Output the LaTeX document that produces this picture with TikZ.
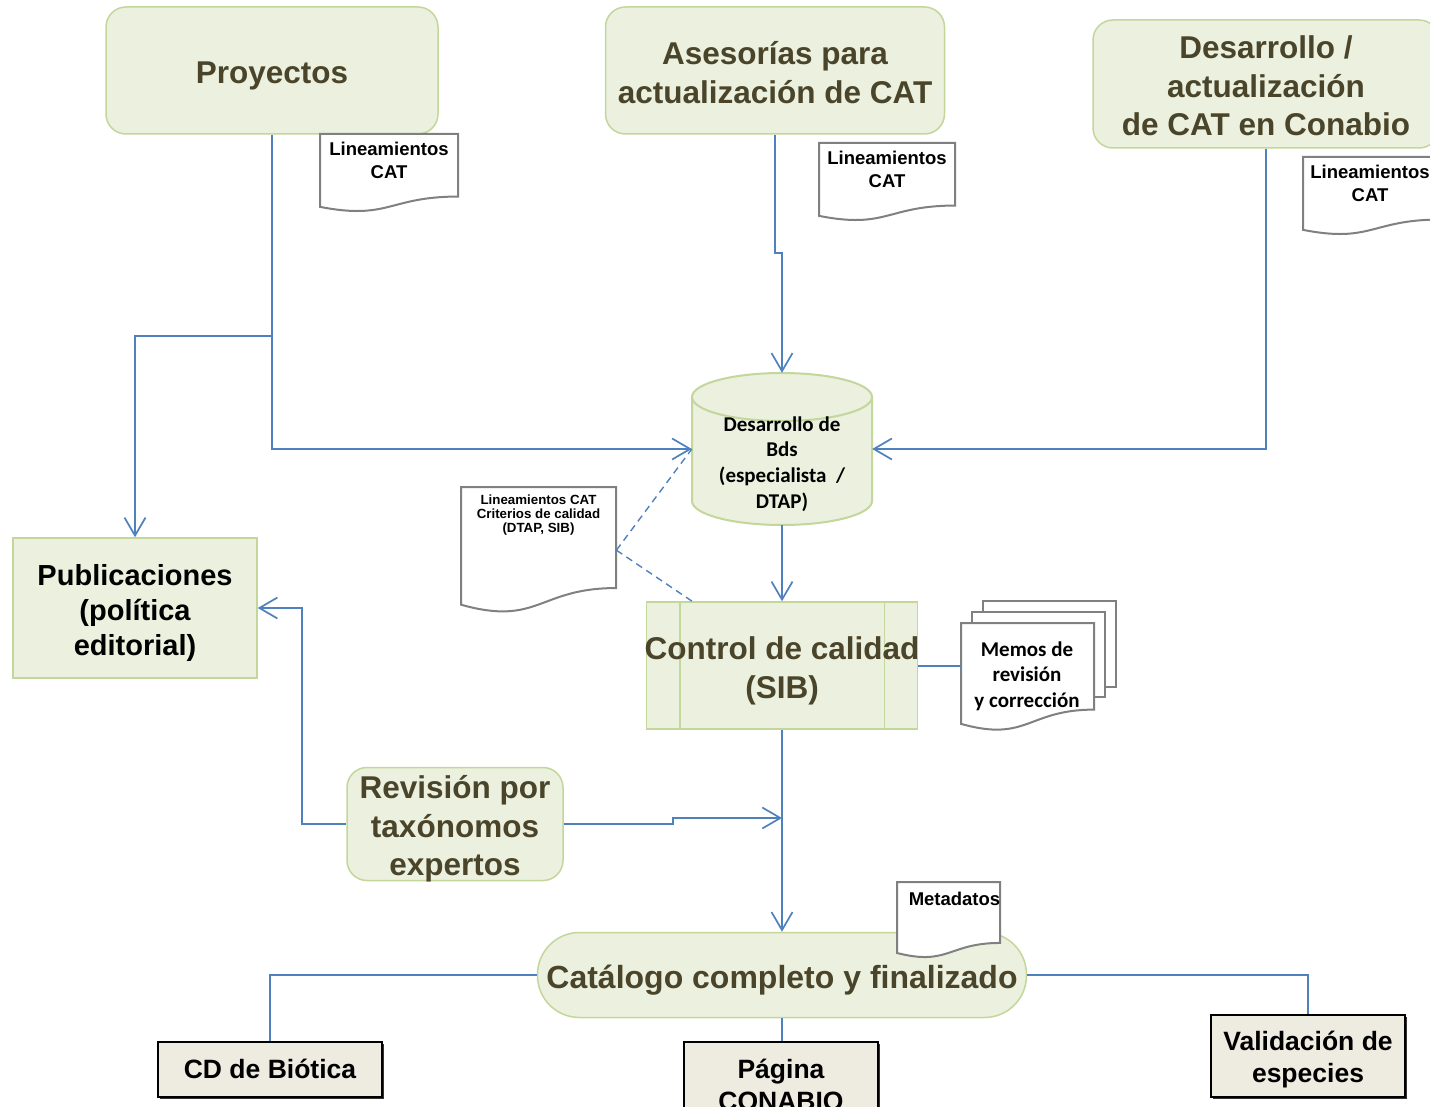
\documentclass[tikz,border=0pt]{standalone}
\usepackage{fontspec}
\setmainfont{Liberation Sans}
\newfontfamily\calibfont{Carlito}
\usetikzlibrary{arrows.meta,calc,shadows}

\definecolor{boxfill}{HTML}{EBF1DE}
\definecolor{boxline}{HTML}{C3D69B}
\definecolor{olive}{HTML}{4A452A}
\definecolor{flowblue}{HTML}{4F81BD}
\definecolor{docgray}{HTML}{808080}
\definecolor{outfill}{HTML}{EEECE1}

% document sheet with wavy bottom: name, x, y (top left), width, height
\newcommand{\docnote}[5]{%
  \filldraw[docline] (#2,#3) -- ({#2+#4},#3) -- ({#2+#4},{#3+0.802*#5})
    .. controls ({#2+0.5*#4},{#3+0.802*#5}) and ({#2+0.5*#4},{#3+1.1075*#5}) .. (#2,{#3+0.934*#5}) -- cycle;
  \node[inner sep=0pt,minimum width=#4pt,minimum height=#5pt,anchor=north west] (#1) at (#2,#3) {};}

\begin{document}
\begin{tikzpicture}[x=1pt,y=-1pt,
    topbox/.style={draw=boxline,fill=boxfill,line width=1.5pt,rounded corners=20pt,inner sep=0pt},
    flatbox/.style={draw=boxline,fill=boxfill,line width=1.5pt,inner sep=0pt},
    bigtext/.style={inner sep=0pt,text=olive,align=center,font=\bfseries\fontsize{31.5}{38.5}\selectfont},
    pubtext/.style={inner sep=0pt,align=center,font=\bfseries\fontsize{29}{35}\selectfont},
    outbox/.style={draw=black,fill=outfill,line width=2pt,inner sep=0pt,
      drop shadow={shadow xshift=2pt,shadow yshift=-2pt,fill=black,opacity=0.8}},
    outtext/.style={inner sep=0pt,align=center,font=\bfseries\fontsize{26.5}{32}\selectfont},
    docline/.style={draw=docgray,fill=white,line width=2pt},
    doctext/.style={inner sep=0pt,align=center,font=\bfseries\fontsize{18.5}{23}\selectfont},
    calibtext/.style={inner sep=0pt,align=center,font=\calibfont\bfseries\fontsize{21}{25.7}\selectfont},
    flow/.style={draw=flowblue,line width=1.7pt},
    flowarrow/.style={flow,-{Straight Barb[length=18pt,width=21pt]}},
    link/.style={draw=flowblue,line width=1.4pt,dash pattern=on 7pt off 5pt}]

  \useasboundingbox[fill=white] (0,0) rectangle (1430,1107);

  % sources
  \node[topbox,minimum width=332pt,minimum height=127pt] (proy) at (272,70.5) {};
  \node[bigtext] (proytxt) at ($(proy)+(0,5)$) {Proyectos};
  \node[topbox,minimum width=339pt,minimum height=127pt] (ases) at (775,70.5) {};
  \node[bigtext] (asestxt) at ($(ases)+(0,2)$) {Asesorías para\\actualización de CAT};
  \node[topbox,minimum width=346pt,minimum height=128pt] (desa) at (1266,84) {};
  \node[bigtext] (desatxt) at ($(desa)+(0,2)$) {Desarrollo /\\actualización\\de CAT en Conabio};

  \docnote{lin1}{320}{134}{138}{78}
  \node[doctext] (lin1txt) at (389,160) {Lineamientos\\CAT};
  \docnote{lin2}{819}{143}{136}{78}
  \node[doctext] (lin2txt) at (887,169) {Lineamientos\\CAT};
  \docnote{lin3}{1303}{157}{137}{78}
  \node[doctext] (lin3txt) at (1370,183.5) {Lineamientos\\CAT};

  % data base
  \filldraw[draw=boxline,fill=boxfill,line width=2pt] (692,397) -- (692,501)
    .. controls (692,514.3) and (732.3,525) .. (782,525)
    .. controls (831.7,525) and (872,514.3) .. (872,501) -- (872,397);
  \filldraw[draw=boxline,fill=boxfill,line width=2pt] (782,397) ellipse [x radius=90, y radius=24];
  \node[inner sep=0pt,minimum width=180pt,minimum height=152pt] (bd) at (782,449) {};
  \node[calibtext] (bdtxt) at (782,464) {Desarrollo de\\Bds\\(especialista~~/\\DTAP)};

  \docnote{crit}{461}{487}{155}{126}
  \node[inner sep=0pt,align=center,anchor=north,font=\bfseries\fontsize{13.3}{14}\selectfont] (crittxt)
    at (538.5,495) {Lineamientos CAT\\Criterios de calidad\\(DTAP, SIB)};

  % quality control
  \node[flatbox,minimum width=271pt,minimum height=127pt] (ctrl) at (782,665.5) {};
  \draw[boxline,line width=1.5pt] ($(ctrl.north west)+(34,0)$) -- ($(ctrl.south west)+(34,0)$);
  \draw[boxline,line width=1.5pt] ($(ctrl.north east)+(-34,0)$) -- ($(ctrl.south east)+(-34,0)$);
  \node[bigtext] (ctrltxt) at (782,671) {Control de calidad\\(SIB)};

  \filldraw[docline] (983,601) rectangle (1116,687);
  \filldraw[docline] (972,612) rectangle (1105,697);
  \docnote{memo}{961}{623}{133}{108}
  \node[calibtext] (memotxt) at (1027,676) {Memos de\\revisión\\y corrección};

  \node[flatbox,minimum width=244pt,minimum height=140pt] (pub) at (135,608) {};
  \node[pubtext] (pubtxt) at ($(pub)+(0,5)$) {Publicaciones\\(política\\editorial)};
  \node[topbox,minimum width=216pt,minimum height=113pt] (rev) at (455,824) {};
  \node[bigtext] (revtxt) at ($(rev)+(0,5)$) {Revisión por\\taxónomos\\expertos};

  % final product
  \node[topbox,rounded corners=42pt,minimum width=489pt,minimum height=85pt] (cat) at (782,975) {};
  \node[bigtext,font=\bfseries\fontsize{32}{38}\selectfont] (cattxt) at ($(cat)+(0,5)$) {Catálogo completo y finalizado};
  \docnote{meta}{897}{882}{103}{76}
  \node[doctext] (metatxt) at (954.5,899) {Metadatos};

  \node[outbox,minimum width=224pt,minimum height=55pt] (cd) at (270,1069.5) {};
  \node[outtext] (cdtxt) at ($(cd)+(0,-1)$) {CD de Biótica};
  \node[outbox,minimum width=194pt,minimum height=80pt] (pag) at (781,1082) {};
  \node[outtext] (pagtxt) at ($(pag)+(0,3)$) {Página\\CONABIO};
  \node[outbox,minimum width=194pt,minimum height=82pt] (val) at (1308,1056) {};
  \node[outtext] (valtxt) at ($(val)+(0,4)$) {Validación de\\especies};

  % connectors
  \coordinate (br1) at (272,336);
  \coordinate (j1) at (775,253);
  \coordinate (j2) at (673,824);
  \coordinate (j3) at (302,824);
  \coordinate (m1) at (782,818);
  \draw[flowarrow] (proy.south) |- (bd.west);
  \draw[flowarrow] (br1) -| (pub.north);
  \draw[flowarrow] (ases.south) -- (j1) -| (bd.north);
  \draw[flowarrow] (desa.south) |- (bd.east);
  \draw[flowarrow] (bd.south) -- (ctrl.north);
  \draw[flowarrow] (ctrl.south) -- (cat.north);
  \draw[flowarrow] (rev.east) -- (j2) |- (m1);
  \draw[flowarrow] (rev.west) -- (j3) |- (pub.east);
  \coordinate (c1) at (918,666);
  \draw[flow] (c1) -- (c1 -| memo.west);
  \draw[flow] (cat.west) -| (cd.north);
  \draw[flow] (cat.east) -| (val.north);
  \draw[flow] (cat.south) -- (cat.south |- pag.north);
  \draw[link] (crit.east) -- (bd.west);
  \draw[link] (crit.east) -- ($(ctrl.north west)!0.17!(ctrl.north east)$);
\end{tikzpicture}
\end{document}
